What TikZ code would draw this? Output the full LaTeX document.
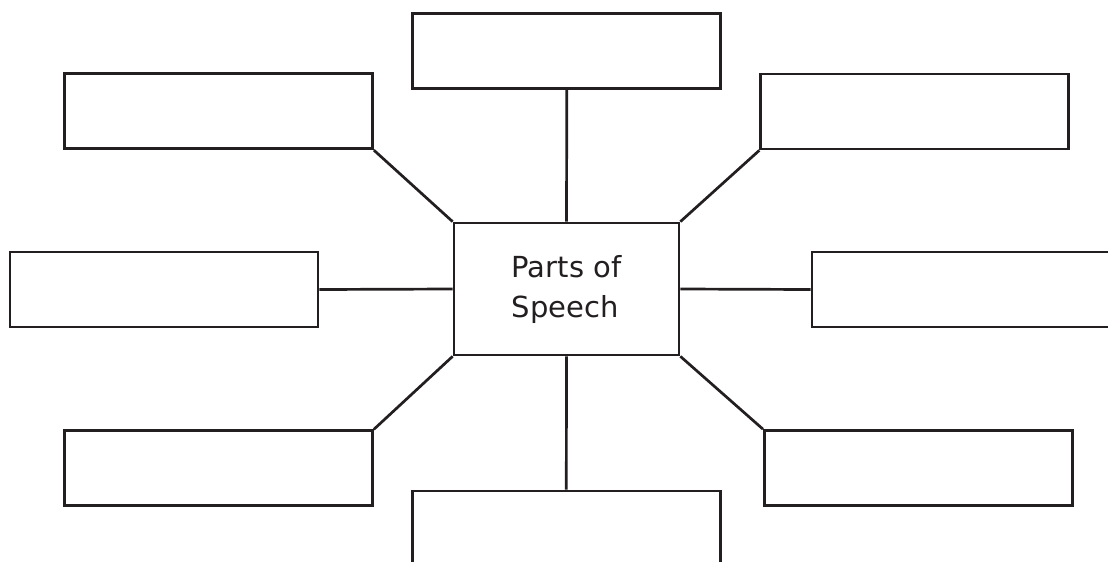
\documentclass[tikz,border=0pt]{standalone}
\usepackage{fontspec}
\setmainfont{DejaVu Sans}
\definecolor{ink}{HTML}{231F20}
\begin{document}
\begin{tikzpicture}[x=1pt, y=-1pt, line width=2.7pt, draw=ink, color=ink]
    \tikzset{blank/.style={draw, minimum width=308pt, minimum height=75pt, inner sep=0pt},
             hub/.style={draw, minimum width=225pt, minimum height=132pt, inner sep=0pt,
                          align=left, font=\fontsize{29}{40}\selectfont}}
    \useasboundingbox (0,0) rectangle (1108,562);
    \clip (0,0) rectangle (1108,562);
    % centre
    \node[hub] (speech) at (566.5,289) {Parts of\\Speech};
    % outer boxes, clockwise from the top
    \node[blank] (top) at (566.8,51) {};
    \node[blank] (topright) at (914.7,111.5) {};
    \node[blank] (right) at (966,289.5) {};
    \node[blank] (botright) at (918.3,468) {};
    \node[blank] (bottom) at (566.3,528.5) {};
    \node[blank] (botleft) at (218.5,468.2) {};
    \node[blank] (left) at (164,289.5) {};
    \node[blank] (topleft) at (218.5,111.3) {};
    % spokes
    \draw (speech.north) -- (top.south);
    \draw (speech.north east) -- (topright.south west);
    \draw (speech.east) -- (right.west);
    \draw (speech.south east) -- (botright.north west);
    \draw (speech.south) -- (bottom.north);
    \draw (speech.south west) -- (botleft.north east);
    \draw (speech.west) -- (left.east);
    \draw (speech.north west) -- (topleft.south east);
\end{tikzpicture}
\end{document}
